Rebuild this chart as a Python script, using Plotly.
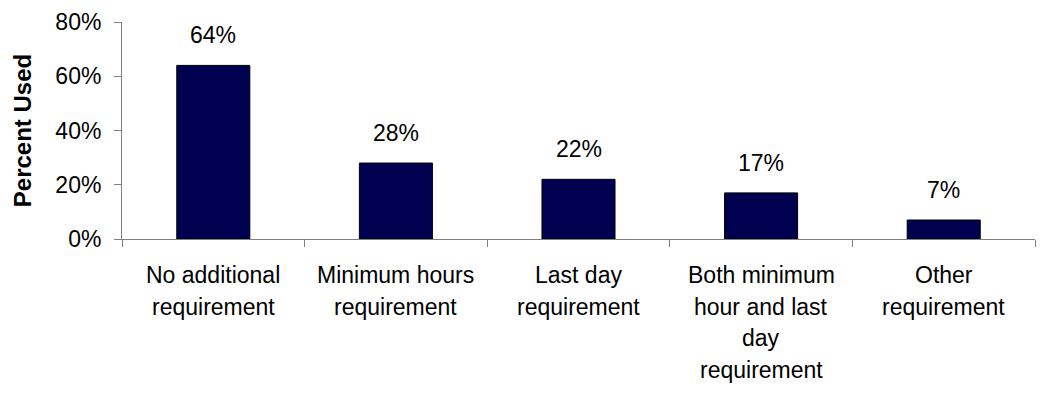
import plotly.graph_objects as go

categories = ["No additional<br>requirement", "Minimum hours<br>requirement", "Last day<br>requirement",
              "Both minimum<br>hour and last<br>day<br>requirement", "Other<br>requirement"]
values = [0.64, 0.28, 0.22, 0.17, 0.07]
value_labels = ["64%", "28%", "22%", "17%", "7%"]
y_ticks = [0, 0.2, 0.4, 0.6, 0.8]
y_tick_labels = ["0%", "20%", "40%", "60%", "80%"]

FONT = "Liberation Sans, Arial, sans-serif"
FS = 23

fig = go.Figure()
fig.add_trace(go.Bar(
    x=categories, y=values, width=0.4,
    marker=dict(color="#000050", line=dict(color="black", width=1)),
    hoverinfo="skip",
))

annotations = []
for c, v, t in zip(categories, values, value_labels):
    annotations.append(dict(x=c, y=v, xref="x", yref="y", text=t, showarrow=False,
                            yanchor="bottom", yshift=15, font=dict(family=FONT, size=FS, color="black")))
    for i, line in enumerate(c.split("<br>")):
        annotations.append(dict(x=c, y=0, xref="x", yref="y", text=line, showarrow=False,
                                yanchor="middle", yshift=-(36 + 31.5 * i),
                                font=dict(family=FONT, size=FS, color="black")))

fig.update_layout(
    width=1044, height=394,
    margin=dict(l=122, r=9, t=17, b=155),
    paper_bgcolor="white", plot_bgcolor="white",
    showlegend=False,
    bargap=0.6,
    annotations=annotations,
    xaxis=dict(
        showline=True, linecolor="#808080", linewidth=1,
        ticks="outside", tickson="boundaries", ticklen=7, tickcolor="#808080",
        showticklabels=False, showgrid=False, zeroline=False,
    ),
    yaxis=dict(
        range=[0, 0.8], tickvals=y_ticks, ticktext=y_tick_labels,
        showline=True, linecolor="#808080", linewidth=1,
        ticks="outside", ticklen=7, tickcolor="#808080",
        ticklabelstandoff=8,
        showgrid=False, zeroline=False,
        tickfont=dict(family=FONT, size=FS, color="black"),
        title=dict(text="<b>Percent Used</b>", font=dict(family=FONT, size=24, color="black"), standoff=16),
    ),
)

fig.write_html("out.html")
